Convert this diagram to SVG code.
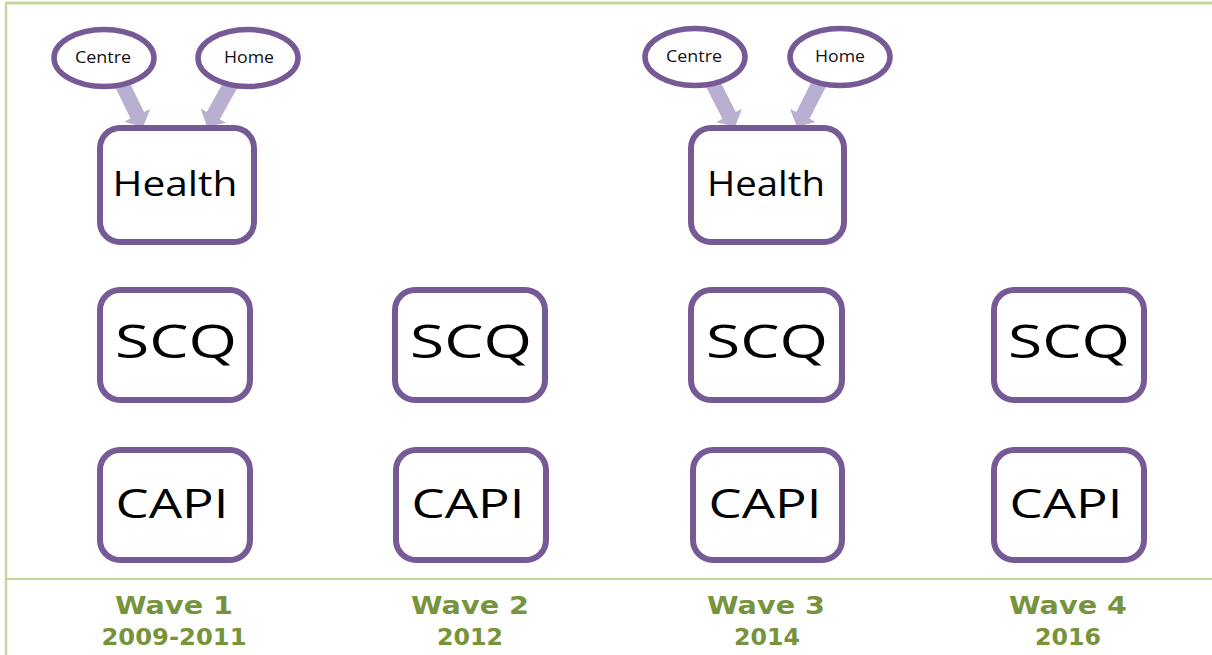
<svg xmlns="http://www.w3.org/2000/svg" xmlns:xlink="http://www.w3.org/1999/xlink" width="1212" height="655" viewBox="0 0 1212 655">
<style>
.box{fill:#fff;stroke:#765A96;stroke-width:6}
.ell{fill:#fff;stroke:#765A96;stroke-width:5.5}
.arr{fill:#B9AFD0}
.t{font-family:"Open Sans","Noto Sans","DejaVu Sans",sans-serif;fill:#000;text-anchor:middle}
.s{font-family:"Open Sans","Noto Sans","DejaVu Sans",sans-serif;fill:#111;text-anchor:middle;font-size:16px}
.w{font-family:"DejaVu Sans","Liberation Sans",sans-serif;font-weight:bold;fill:#77933C;text-anchor:middle}
.frame{stroke:#C3D69B;fill:none}
</style>
<defs>
<polygon id="arrow" class="arr" points="-7.5,-52 7.5,-52 7.5,-13 14.5,-13 0,0 -14.5,-13 -7.5,-13"/>
</defs>
<rect width="1212" height="655" fill="#fff"/>
<g id="frame">
<line class="frame" x1="6" y1="3" x2="1212" y2="3" stroke-width="3"/>
<line class="frame" x1="6" y1="2" x2="6" y2="655" stroke-width="2.5"/>
<line class="frame" x1="6" y1="579" x2="1212" y2="579" stroke-width="2"/>
</g>
<g id="connectors">
<use xlink:href="#arrow" transform="translate(143,127) rotate(-26)"/>
<use xlink:href="#arrow" transform="translate(207,127) rotate(29)"/>
<use xlink:href="#arrow" transform="translate(735,127) rotate(-27)"/>
<use xlink:href="#arrow" transform="translate(797,127) rotate(27)"/>
</g>
<g id="w1-centre"><ellipse class="ell" cx="104" cy="58" rx="50" ry="28.5"/><text class="s" x="103" y="63" textLength="56" lengthAdjust="spacingAndGlyphs">Centre</text></g>
<g id="w1-home"><ellipse class="ell" cx="248" cy="58" rx="50" ry="28.5"/><text class="s" x="249" y="63" textLength="50" lengthAdjust="spacingAndGlyphs">Home</text></g>
<g id="w1-health"><rect class="box" x="100" y="128" width="154" height="114" rx="20"/><text class="t" x="175" y="196" font-size="34" textLength="125" lengthAdjust="spacingAndGlyphs">Health</text></g>
<g id="w1-scq"><rect class="box" x="100" y="290" width="150" height="110" rx="20"/><text class="t" x="176" y="358" font-size="45" textLength="122" lengthAdjust="spacingAndGlyphs">SCQ</text></g>
<g id="w1-capi"><rect class="box" x="100" y="450" width="150" height="110" rx="20"/><text class="t" x="172" y="518" font-size="41" textLength="113" lengthAdjust="spacingAndGlyphs">CAPI</text></g>
<g id="w2-scq"><rect class="box" x="395" y="290" width="150" height="110" rx="20"/><text class="t" x="471" y="358" font-size="45" textLength="122" lengthAdjust="spacingAndGlyphs">SCQ</text></g>
<g id="w2-capi"><rect class="box" x="396" y="450" width="150" height="110" rx="20"/><text class="t" x="468" y="518" font-size="41" textLength="113" lengthAdjust="spacingAndGlyphs">CAPI</text></g>
<g id="w3-centre"><ellipse class="ell" cx="695" cy="57" rx="50" ry="28.5"/><text class="s" x="694" y="62" textLength="56" lengthAdjust="spacingAndGlyphs">Centre</text></g>
<g id="w3-home"><ellipse class="ell" cx="840" cy="57" rx="50" ry="28.5"/><text class="s" x="840" y="62" textLength="50" lengthAdjust="spacingAndGlyphs">Home</text></g>
<g id="w3-health"><rect class="box" x="691" y="128" width="153" height="114" rx="20"/><text class="t" x="766" y="196" font-size="34" textLength="118" lengthAdjust="spacingAndGlyphs">Health</text></g>
<g id="w3-scq"><rect class="box" x="691" y="290" width="151" height="110" rx="20"/><text class="t" x="767" y="358" font-size="45" textLength="122" lengthAdjust="spacingAndGlyphs">SCQ</text></g>
<g id="w3-capi"><rect class="box" x="693" y="450" width="149" height="110" rx="20"/><text class="t" x="765" y="518" font-size="41" textLength="113" lengthAdjust="spacingAndGlyphs">CAPI</text></g>
<g id="w4-scq"><rect class="box" x="994" y="290" width="150" height="110" rx="20"/><text class="t" x="1069" y="358" font-size="45" textLength="122" lengthAdjust="spacingAndGlyphs">SCQ</text></g>
<g id="w4-capi"><rect class="box" x="994" y="450" width="150" height="110" rx="20"/><text class="t" x="1066" y="518" font-size="41" textLength="113" lengthAdjust="spacingAndGlyphs">CAPI</text></g>
<g id="labels">
<text class="w" x="174" y="614" font-size="25" textLength="118" lengthAdjust="spacingAndGlyphs">Wave 1</text>
<text class="w" x="174" y="645" font-size="23" textLength="145" lengthAdjust="spacingAndGlyphs">2009-2011</text>
<text class="w" x="470" y="614" font-size="25" textLength="118" lengthAdjust="spacingAndGlyphs">Wave 2</text>
<text class="w" x="470" y="645" font-size="23" textLength="66" lengthAdjust="spacingAndGlyphs">2012</text>
<text class="w" x="766" y="614" font-size="25" textLength="118" lengthAdjust="spacingAndGlyphs">Wave 3</text>
<text class="w" x="767" y="645" font-size="23" textLength="66" lengthAdjust="spacingAndGlyphs">2014</text>
<text class="w" x="1068" y="614" font-size="25" textLength="118" lengthAdjust="spacingAndGlyphs">Wave 4</text>
<text class="w" x="1068" y="645" font-size="23" textLength="66" lengthAdjust="spacingAndGlyphs">2016</text>
</g>
</svg>
